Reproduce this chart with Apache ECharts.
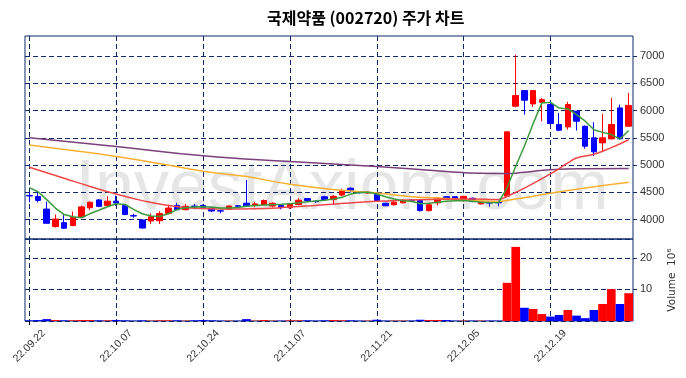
<!DOCTYPE html>
<html>
<head>
<meta charset="utf-8">
<script src="https://cdn.jsdelivr.net/npm/echarts@6/dist/echarts.min.js"></script>
<style>
  html, body { margin: 0; padding: 0; background: #fff; }
  #main { width: 686px; height: 378px; }
</style>
</head>
<body>
<div id="main"></div>
<script>
// trading days shown on the x axis
var dates = [
  '22.09.22','22.09.23','22.09.26','22.09.27','22.09.28','22.09.29','22.09.30',
  '22.10.04','22.10.05','22.10.06','22.10.07','22.10.11','22.10.12','22.10.13','22.10.14',
  '22.10.17','22.10.18','22.10.19','22.10.20','22.10.21','22.10.24','22.10.25','22.10.26',
  '22.10.27','22.10.28','22.10.31','22.11.01','22.11.02','22.11.03','22.11.04',
  '22.11.07','22.11.08','22.11.09','22.11.10','22.11.11','22.11.14','22.11.15','22.11.16',
  '22.11.17','22.11.18','22.11.21','22.11.22','22.11.23','22.11.24','22.11.25',
  '22.11.28','22.11.29','22.11.30','22.12.01','22.12.02','22.12.05','22.12.06','22.12.07',
  '22.12.08','22.12.09','22.12.12','22.12.13','22.12.14','22.12.15','22.12.16',
  '22.12.19','22.12.20','22.12.21','22.12.22','22.12.23','22.12.26','22.12.27','22.12.28',
  '22.12.29','22.12.30'
];

var opens = [
  4445,4427,4195,3875,3946,3893,4050,4220,4363,4262,
  4340,4262,4075,3995,3976,3982,4113,4262,4184,4250,
  4262,4214,4165,4190,4255,4303,4262,4280,4250,4262,
  4220,4280,4387,4338,4422,4369,4452,4577,4510,4490,
  4490,4303,4274,4310,4360,4351,4167,4310,4422,4422,
  4351,4393,4290,4315,4320,4430,6080,6366,6122,6153,
  6110,5744,5701,5988,5713,5500,5408,5482,6049,5713
];
var closes = [
  4435,4354,3935,4012,3845,4042,4235,4320,4245,4340,
  4305,4095,4068,3848,4054,4113,4214,4184,4244,4240,
  4228,4160,4158,4250,4248,4256,4290,4351,4303,4220,
  4290,4357,4351,4330,4370,4428,4530,4541,4495,4505,
  4350,4256,4321,4357,4355,4167,4274,4393,4381,4381,
  4428,4333,4333,4305,4310,5610,6275,6190,6366,6200,
  5762,5640,6110,5805,5347,5244,5500,5744,5482,6092
];
var lows = [
  4320,4317,3930,3855,3833,3880,4040,4175,4230,4255,
  4250,4083,4035,3840,3923,3923,4100,4180,4170,4190,
  4200,4140,4120,4178,4230,4245,4230,4262,4226,4190,
  4200,4262,4320,4310,4350,4290,4430,4500,4480,4480,
  4340,4250,4262,4300,4320,4150,4150,4262,4375,4345,
  4330,4320,4280,4240,4245,4410,6060,5925,6065,5805,
  5745,5622,5652,5634,5300,5165,5256,5470,5470,5700
];
var highs = [
  4500,4500,4330,4095,4083,4150,4260,4335,4380,4430,
  4440,4270,4110,4005,4113,4155,4275,4310,4290,4290,
  4280,4230,4185,4262,4270,4730,4330,4370,4320,4280,
  4300,4393,4395,4350,4440,4450,4570,4595,4520,4515,
  4500,4310,4345,4380,4380,4360,4290,4410,4430,4430,
  4440,4410,4345,4333,4350,5615,7025,6370,6370,6232,
  6170,5957,6160,5995,5726,5787,5940,6232,6110,6324
];

// volume, in millions of shares
var volumes = [
  0.2,0.3,0.6,0.3,0.2,0.2,0.3,0.3,0.2,0.2,
  0.3,0.2,0.1,0.2,0.1,0.2,0.2,0.2,0.1,0.2,
  0.3,0.2,0.1,0.1,0.1,0.6,0.1,0.3,0.1,0.1,
  0.2,0.2,0.2,0.1,0.2,0.3,0.2,0.2,0.1,0.1,
  0.4,0.1,0.1,0.1,0.1,0.4,0.3,0.3,0.3,0.1,
  0.1,0.1,0.1,0.1,0.1,12.1,23.5,4.2,3.8,2.2,
  1.4,1.9,3.5,1.7,0.9,3.5,5.4,10.1,5.4,8.8
];

// moving averages
var ma5 = [
  4589,4512,4369,4214,4095,4054,4036,4113,4173,4238,
  4292,4280,4190,4110,4070,4060,4110,4185,4220,4232,
  4238,4232,4215,4215,4225,4245,4262,4268,4275,4282,
  4292,4310,4330,4345,4355,4380,4410,4470,4500,4505,
  4470,4420,4381,4350,4340,4292,4300,4321,4340,4350,
  4351,4340,4321,4315,4310,4590,4980,5350,5760,6140,
  6150,6045,6030,5925,5805,5650,5600,5560,5480,5635
];
var ma20 = [
  [0,4960],[2,4860],[4,4760],[7,4610],[10,4470],[13,4350],[16,4260],[19,4210],
  [22,4195],[26,4200],[30,4232],[34,4274],[38,4321],[41,4345],[46,4370],[51,4381],
  [54,4370],[55,4430],[57,4580],[60,4840],[62,5040],[63,5130],[65,5200],[67,5320],[69,5465]
];
var ma60 = [
  [0,5370],[5,5270],[10,5160],[15,5030],[20,4890],[25,4790],[30,4650],[36,4540],
  [40,4490],[44,4420],[48,4390],[52,4345],[54,4335],[56,4380],[58,4430],[60,4485],
  [64,4580],[69,4685]
];
var ma120 = [
  [0,5500],[10,5340],[20,5170],[30,5065],[40,4975],[48,4885],[52,4850],[55,4845],
  [57,4870],[60,4915],[64,4935],[69,4940]
];

var priceTicks = [4000, 4500, 5000, 5500, 6000, 6500, 7000];

var UP = '#ff0000', DOWN = '#0000ff', NAVY = '#0d2a6b';

var candles = [];
var volBars = [];
for (var i = 0; i < dates.length; i++) {
  candles.push([opens[i], closes[i], lows[i], highs[i]]);
  volBars.push({
    value: volumes[i],
    itemStyle: { color: closes[i] >= opens[i] ? UP : DOWN }
  });
}

var dashed = { color: NAVY, width: 1, type: [5, 3] };
var labelFont = 'Liberation Sans';

var myChart = echarts.init(document.getElementById('main'));
var option = {
  animation: false,
  title: {
    text: '국제약품 (002720) 주가 차트',
    left: 262,
    top: 5,
    textStyle: { fontFamily: 'Noto Sans CJK KR', fontSize: 16, fontWeight: 'bold', color: '#000' }
  },
  graphic: [{
    type: 'text',
    z: -10,
    silent: true,
    x: 342,
    y: 190,
    style: {
      text: 'InvestAxiom.com',
      font: '70px "Liberation Sans"',
      fill: '#e6e6e6',
      align: 'center',
      verticalAlign: 'middle'
    }
  }],
  grid: [
    { left: 25, right: 53, top: 36, height: 203, show: true, borderColor: NAVY, borderWidth: 1 },
    { left: 25, right: 53, top: 239, height: 82, show: true, borderColor: NAVY, borderWidth: 1 }
  ],
  xAxis: [
    {
      type: 'category', gridIndex: 0, data: dates, boundaryGap: true,
      axisLine: { show: false }, axisTick: { show: false }, axisLabel: { show: false },
      splitLine: { show: true, interval: 9, alignWithLabel: true, lineStyle: dashed }
    },
    {
      type: 'category', gridIndex: 1, data: dates, boundaryGap: true,
      axisLine: { show: false },
      axisTick: { show: true, interval: 9, alignWithLabel: true, length: 4, lineStyle: { color: '#000' } },
      axisLabel: {
        interval: 9, rotate: 45, align: 'center', verticalAlign: 'middle', margin: 25,
        fontFamily: labelFont, fontSize: 10.5, color: '#333'
      },
      splitLine: { show: true, interval: 9, alignWithLabel: true, lineStyle: dashed }
    }
  ],
  yAxis: [
    {
      type: 'value', gridIndex: 0, position: 'right', min: 3647, max: 7366,
      axisLine: { show: false },
      axisTick: { show: true, customValues: priceTicks, length: 4, lineStyle: { color: NAVY } },
      axisLabel: { customValues: priceTicks, margin: 7, fontFamily: labelFont, fontSize: 11, color: '#333',
        formatter: function (v) { return String(v); } },
      splitLine: { show: true, lineStyle: dashed }
    },
    {
      type: 'value', gridIndex: 1, position: 'right', min: 0, max: 26, interval: 10,
      name: 'Volume  10⁶', nameLocation: 'middle', nameRotate: 90, nameGap: 34,
      nameTextStyle: { fontFamily: 'DejaVu Sans', fontSize: 10.5, color: '#333' },
      axisLine: { show: false },
      axisTick: { show: true, length: 4, lineStyle: { color: NAVY } },
      axisLabel: { showMinLabel: false, showMaxLabel: false, margin: 7, fontFamily: labelFont, fontSize: 11, color: '#333',
        formatter: function (v) { return v === 0 ? '' : String(v); } },
      splitLine: { show: true, lineStyle: dashed }
    }
  ],
  series: [
    {
      name: 'price', type: 'candlestick', xAxisIndex: 0, yAxisIndex: 0, data: candles, barWidth: 6,
      itemStyle: { color: UP, color0: DOWN, borderColor: UP, borderColor0: DOWN, borderWidth: 1 }
    },
    { name: 'MA120', type: 'line', xAxisIndex: 0, yAxisIndex: 0, data: ma120, showSymbol: false, smooth: true,
      lineStyle: { color: '#7b3f7b', width: 1.5 } },
    { name: 'MA60', type: 'line', xAxisIndex: 0, yAxisIndex: 0, data: ma60, showSymbol: false, smooth: true,
      lineStyle: { color: '#f7b032', width: 1.5 } },
    { name: 'MA20', type: 'line', xAxisIndex: 0, yAxisIndex: 0, data: ma20, showSymbol: false, smooth: true,
      lineStyle: { color: '#f04848', width: 1.5 } },
    { name: 'MA5', type: 'line', xAxisIndex: 0, yAxisIndex: 0, data: ma5, showSymbol: false,
      lineStyle: { color: '#3b9a3b', width: 1.5 } },
    {
      name: 'Volume', type: 'bar', xAxisIndex: 1, yAxisIndex: 1, data: volBars,
      barWidth: '100%', barCategoryGap: 0
    }
  ]
};
option && myChart.setOption(option);
</script>
</body>
</html>
